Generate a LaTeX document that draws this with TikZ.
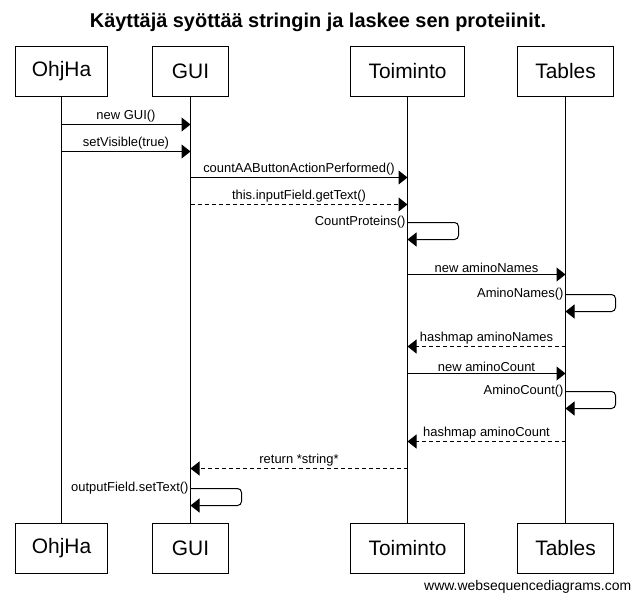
\documentclass[tikz,border=0pt]{standalone}
\usepackage{fontspec}
\setmainfont{Liberation Sans}
\usetikzlibrary{arrows.meta,positioning}
\tikzstyle{actor} = [rectangle, draw, font=\fontsize{21}{24}\selectfont,
      minimum height=50bp, inner xsep=14pt]
\tikzstyle{msg} = [draw, -{Triangle[length=9bp,width=14bp]}]
\tikzstyle{reply} = [msg, dash pattern=on 4bp off 3bp]
\tikzstyle{self} = [msg, rounded corners=4bp]
\tikzstyle{lbl} = [font=\fontsize{13}{15}\selectfont, inner sep=1.5pt]

\begin{document}
\begin{tikzpicture}[x=1bp, y=-1bp, line width=1bp, auto]
	  \useasboundingbox (0,0) rectangle (636,596);
	  \node[font=\bfseries\fontsize{20}{24}\selectfont] (title) at (318,22) {Käyttäjä syöttää stringin ja laskee sen proteiinit.};
	  % Nodes
	  \node [actor, minimum width=92bp] (ohjha) at (61.5,71.5) {OhjHa};
	  \node [actor, minimum width=76bp] (gui) at (190.5,71.5) {GUI};
	  \node [actor, minimum width=114bp] (toiminto) at (407.5,71.5) {Toiminto};
	  \node [actor, minimum width=96bp] (tables) at (565.5,71.5) {Tables};
	  \node [actor, minimum width=92bp, below=426bp of ohjha] (ohjhaEnd) {OhjHa};
	  \node [actor, minimum width=76bp, below=426bp of gui] (guiEnd) {GUI};
	  \node [actor, minimum width=114bp, below=426bp of toiminto] (toimintoEnd) {Toiminto};
	  \node [actor, minimum width=96bp, below=426bp of tables] (tablesEnd) {Tables};
	  \node [font=\fontsize{14}{16}\selectfont, anchor=east] (site) at (635,587) {www.websequencediagrams.com};
	  %Elinviivat
	  \draw (ohjha) -- (ohjhaEnd);
	  \draw (gui) -- (guiEnd);
	  \draw (toiminto) -- (toimintoEnd);
	  \draw (tables) -- (tablesEnd);
	  %Viestien rivit
	  \coordinate (m1) at (0,124.5);
	  \coordinate (m2) at (0,151.5);
	  \coordinate (m3) at (0,177.5);
	  \coordinate (m4) at (0,204.5);
	  \coordinate (s1) at (0,222.5);
	  \coordinate (m5) at (0,274.5);
	  \coordinate (s2) at (0,294.5);
	  \coordinate (m6) at (0,346.5);
	  \coordinate (m7) at (0,373.5);
	  \coordinate (s3) at (0,391.5);
	  \coordinate (m8) at (0,441.5);
	  \coordinate (m9) at (0,468.5);
	  \coordinate (s4) at (0,488.5);
	  %Viestit
	  \path [msg] (ohjha |- m1) -- node[lbl] {new GUI()} (gui |- m1);
	  \path [msg] (ohjha |- m2) -- node[lbl] {setVisible(true)} (gui |- m2);
	  \path [msg] (gui |- m3) -- node[lbl] {countAAButtonActionPerformed()} (toiminto |- m3);
	  \path [reply] (gui |- m4) -- node[lbl] {this.inputField.getText()} (toiminto |- m4);
	  \path [self] (toiminto |- s1) node[lbl, left] {CountProteins()} -- ++(51,0) -- ++(0,17) -- ++(-51,0);
	  \path [msg] (toiminto |- m5) -- node[lbl] {new aminoNames} (tables |- m5);
	  \path [self] (tables |- s2) node[lbl, left] {AminoNames()} -- ++(50,0) -- ++(0,17) -- ++(-50,0);
	  \path [reply] (tables |- m6) -- node[lbl, swap] {hashmap aminoNames} (toiminto |- m6);
	  \path [msg] (toiminto |- m7) -- node[lbl] {new aminoCount} (tables |- m7);
	  \path [self] (tables |- s3) node[lbl, left] {AminoCount()} -- ++(50,0) -- ++(0,17) -- ++(-50,0);
	  \path [reply] (tables |- m8) -- node[lbl, swap] {hashmap aminoCount} (toiminto |- m8);
	  \path [reply] (toiminto |- m9) -- node[lbl, swap] {return *string*} (gui |- m9);
	  \path [self] (gui |- s4) node[lbl, left] {outputField.setText()} -- ++(51,0) -- ++(0,17) -- ++(-51,0);
\end{tikzpicture}
\end{document}
